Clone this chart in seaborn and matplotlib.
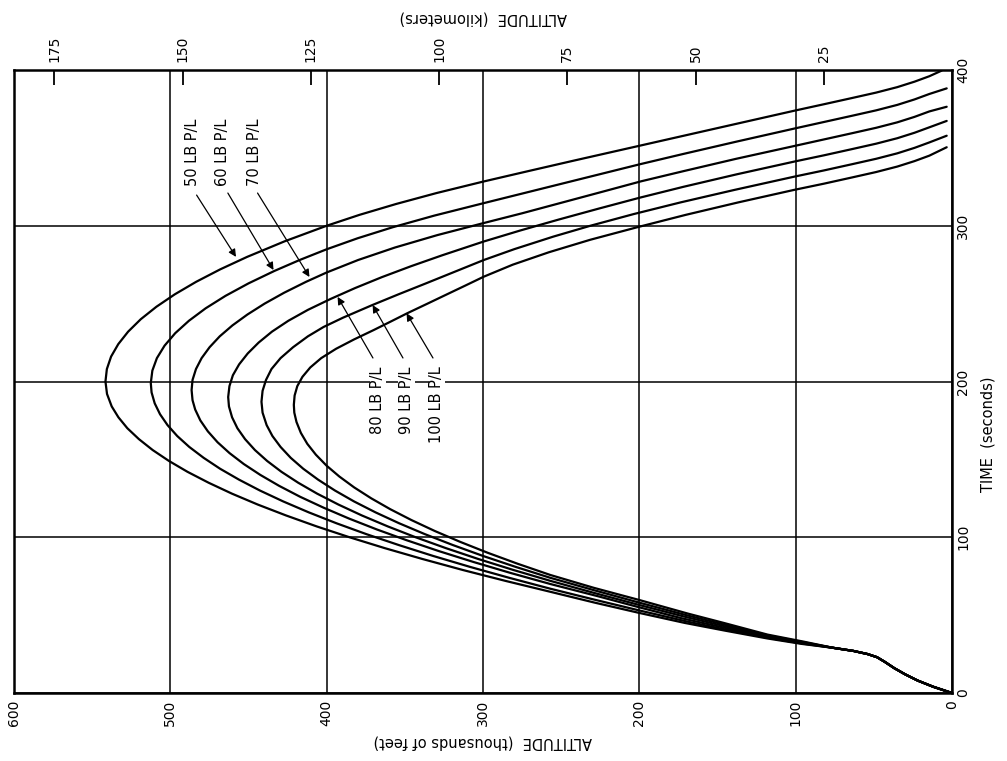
import numpy as np
import pandas as pd
import matplotlib
matplotlib.use("Agg")
import matplotlib.pyplot as plt
import seaborn as sns

sns.set_theme(style="white")
plt.rcParams["font.family"] = ["DejaVu Sans"]

# ---------------- data (time in s, altitude in thousands of feet) ----------------
payloads = ["50 LB P/L", "60 LB P/L", "70 LB P/L", "80 LB P/L", "90 LB P/L", "100 LB P/L"]

# common first part of the trajectory (all payloads overlap)
prefix_time = [0, 4, 8, 12, 16, 20, 23, 25, 27, 29]
prefix_alt = [0, 12, 22, 30, 37, 43, 48, 54, 63, 76]

time_50 = [31.5, 35, 40, 45, 51.4, 58, 65, 72, 79, 86, 93, 100, 107, 114, 121, 128, 135, 142, 149, 156,
           163, 170, 177, 184, 192, 200, 208, 216, 224, 232, 240, 248, 256, 264, 272, 280, 290, 300, 307,
           314, 321, 328.3, 335, 342, 351.2, 358, 365, 373.9, 378, 382, 385.5, 389, 392.5, 396, 399.6]
alt_50 = [96, 118, 145, 171, 200, 228.5, 257, 285.7, 313, 338.6, 362.8, 385.4, 406.5, 426, 444.1, 460.6,
          475.5, 489, 500.9, 511.3, 520.1, 527.5, 533.2, 537.5, 540.5, 541.5, 540.6, 537.9, 533.3, 527,
          518.9, 508.9, 497.1, 483.5, 468.1, 450.9, 426.9, 400, 379, 355.5, 329.7, 300.1, 271.4, 241.1,
          200.6, 170.7, 139.9, 100.7, 82, 64, 48.5, 35, 24, 14.5, 6.6]

time_60 = [31.8, 35.5, 41, 46, 53, 60, 67, 74, 81, 88, 95, 102, 109, 116, 123, 130, 137, 144, 151, 158,
           165, 172, 179, 186, 193, 199, 207, 215, 223, 231, 239, 247, 255, 263, 271, 278, 284.9, 292,
           299, 306.5, 314.4, 321, 330, 339.4, 346, 354, 362.6, 366.6, 370.6, 374.1, 377.6, 381.1, 384.6,
           388.2]
alt_60 = [96, 118, 146, 170, 200, 229, 257.1, 283.4, 308.4, 331.9, 353.9, 374.6, 393.8, 411.5, 427.8,
          442.7, 456.1, 468.2, 478.7, 487.9, 495.6, 501.8, 506.6, 510, 512, 512.5, 511.5, 508.6, 503.7,
          496.9, 488.1, 477.4, 464.7, 450, 433.4, 417.3, 400, 380.1, 357.9, 331.2, 300, 273.6, 237.6,
          200, 172.3, 137.9, 100, 82, 64, 48.5, 35, 24, 14.5, 3.4]

time_70 = [32, 36, 42, 48, 55, 62, 70, 77, 84, 91, 98, 105, 112, 119, 126, 133, 140, 147, 154, 161, 168,
           175, 182, 188, 194.5, 201, 208, 215, 222, 229, 236, 243, 250, 257, 264, 270, 278, 286, 294,
           301.6, 308, 315, 322, 328.5, 335, 343, 351.4, 355.4, 359.4, 362.9, 366.4, 369.9, 373.4, 376.4]
alt_70 = [95, 118, 146, 173, 200, 226, 257, 282.1, 305.7, 327.9, 348.6, 367.9, 385.7, 402, 417, 430.4,
          442.4, 453, 462.1, 469.8, 476, 480.8, 484.1, 485.8, 486.4, 485.8, 483.6, 480, 474.9, 468.4,
          460.3, 450.7, 439.7, 427.2, 413.2, 400, 379.9, 356.4, 329.2, 300.1, 275, 249, 223, 199, 172,
          138, 100, 82, 64, 48.5, 35, 24, 14.5, 3.4]

time_80 = [32.3, 36.5, 43, 49, 56.5, 64, 72, 79, 86, 93, 100, 107, 114, 121, 128, 135, 142, 149, 156,
           163, 170, 177, 184, 190, 197, 204, 211, 218, 225, 232, 239, 246, 253, 260, 267, 274, 281,
           289.8, 297, 304, 311, 318, 325, 333, 341.2, 345.2, 349.2, 352.7, 356.2, 359.7, 363.2, 367.3]
alt_80 = [95, 118, 146, 171, 200, 228, 256.9, 280.6, 302.9, 323.7, 343.1, 361, 377.5, 392.5, 406.1,
          418.2, 428.9, 438.1, 445.9, 452.2, 457.1, 460.5, 462.5, 463, 462.2, 460, 456, 450.5, 443.5,
          435, 424.5, 412, 397.5, 381.8, 364.7, 346.1, 326.2, 299.8, 276, 251.5, 226, 199.8, 171.8,
          137.8, 100.9, 82, 64, 48.5, 35, 24, 14.5, 3.4]

time_90 = [32.6, 37, 44, 50, 58, 66, 74, 81, 88, 95, 102, 109, 116, 123, 130, 137, 144, 151, 158, 165,
           172, 180, 187, 194, 201, 208, 215, 222, 229, 235, 241, 249, 256, 263, 270.5, 278, 285, 293,
           300, 307.5, 315, 323, 331.5, 335.5, 339.5, 343, 346.5, 350, 353.5, 357.8]
alt_90 = [95, 118, 146, 170, 200, 229, 257.1, 279.2, 300, 319.3, 337.2, 353.7, 368.8, 382.5, 394.7,
          405.5, 415, 423, 429.5, 434.7, 438.4, 441, 441.7, 441, 438.8, 435.3, 429.5, 421.5, 412, 402,
          389.5, 371, 354, 336.5, 318, 299.5, 279.9, 255.1, 231.3, 203.6, 173.6, 139.2, 101, 82, 64,
          48.5, 35, 24, 14.5, 3.4]

time_100 = [33, 37.5, 45, 51, 59.7, 67.5, 75.8, 83, 90, 97, 104, 111, 118, 125, 132, 139, 146, 153, 160,
            167, 174, 180, 185, 191, 197, 203, 209, 215, 221, 227, 233, 238.5, 243.8, 250, 256, 261.5,
            267.3, 275, 283, 291, 299, 307, 315, 323, 327, 331, 334.5, 338, 341.5, 345, 350.4]
alt_100 = [95, 118, 146, 169, 200, 229, 257, 277.9, 296.9, 314.5, 330.8, 345.7, 359.3, 371.5, 382.4,
           391.9, 400.1, 406.9, 412.4, 416.5, 419.3, 420.7, 421, 420.5, 418.8, 415.5, 410.5, 403.5, 394,
           382.5, 370, 359, 348.5, 335.5, 323, 311.5, 299.5, 281, 257.8, 231.4, 201.5, 170.3, 136.7,
           101.1, 82, 64, 48.5, 35, 24, 14.5, 3.4]

series_time = [time_50, time_60, time_70, time_80, time_90, time_100]
series_alt = [alt_50, alt_60, alt_70, alt_80, alt_90, alt_100]

alt_ticks_kft = [0, 100, 200, 300, 400, 500, 600]
alt_ticks_km = [25, 50, 75, 100, 125, 150, 175]
time_ticks = [0, 100, 200, 300, 400]

rows = []
for name, ts, als in zip(payloads, series_time, series_alt):
    tt = prefix_time + ts
    aa = prefix_alt + als
    for i, (t, a) in enumerate(zip(tt, aa)):
        rows.append({"payload": name, "order": i, "time": t, "altitude": a})
df = pd.DataFrame(rows)

# ---------------- figure ----------------
W, H = 1007, 761
fig = plt.figure(figsize=(W / 100, H / 100), dpi=100)
ax = fig.add_axes([14 / W, 68 / H, 938 / W, 623 / H])

sns.lineplot(data=df, x="altitude", y="time", units="payload", estimator=None, sort=False,
             color="black", lw=1.6, ax=ax, legend=False, solid_joinstyle="round")

ax.set_xlim(600, 0)
ax.set_ylim(0, 400)
ax.set_xticks(alt_ticks_kft)
ax.set_yticks(time_ticks)
ax.grid(True, color="black", lw=1.1)
ax.set_axisbelow(True)
for s in ax.spines.values():
    s.set_color("black")
    s.set_linewidth(1.8)
    s.set_visible(True)

# bottom axis (altitude kft)
ax.tick_params(axis="x", bottom=True, length=0, pad=5, labelsize=10, labelcolor="black")
for lab in ax.get_xticklabels():
    lab.set_rotation(90)
ax.set_xlabel("ALTITUDE  (thousands of feet)", rotation=180, fontsize=10.5, labelpad=6, color="black")

# right axis (time)
ax.yaxis.tick_right()
ax.yaxis.set_label_position("right")
ax.tick_params(axis="y", length=0, pad=3, labelsize=10, labelcolor="black")
for lab in ax.get_yticklabels():
    lab.set_rotation(90)
    lab.set_va("center")
ax.set_ylabel("TIME  (seconds)", rotation=90, fontsize=10.5, color="black")
ax.yaxis.set_label_coords(1.03, 0.416)

# top axis (altitude km)
sec = ax.secondary_xaxis("top", functions=(lambda x: x * 0.3048, lambda x: x / 0.3048))
sec.set_xticks(alt_ticks_km)
sec.tick_params(axis="x", direction="in", length=11, width=1.3, pad=6, labelsize=10,
                color="black", labelcolor="black")
for lab in sec.get_xticklabels():
    lab.set_rotation(90)
sec.set_xlabel("ALTITUDE  (kilometers)", rotation=180, fontsize=10.5, labelpad=9, color="black")
sec.spines["top"].set_visible(False)

# ---------------- payload labels with arrows (layout only) ----------------
label_layout = [
    # text centre (alt, time), arrow start (alt, time), arrow end (alt, time), white bg
    ((485.6, 347.0), (483.2, 319.7), (458.0, 280.0), False),
    ((466.4, 347.0), (463.2, 321.0), (434.0, 271.6), False),
    ((446.0, 347.0), (444.2, 321.0), (411.0, 267.1), False),
    ((367.2, 188.0), (370.4, 215.1), (393.0, 254.3), True),
    ((348.7, 188.0), (351.2, 215.1), (370.6, 249.1), True),
    ((329.5, 185.0), (332.0, 215.1), (348.9, 243.8), True),
]
for name, (txt, start, end, bg) in zip(payloads, label_layout):
    kw = {}
    if bg:
        kw["bbox"] = dict(facecolor="white", edgecolor="none", pad=0.6)
    ax.text(txt[0], txt[1], name, rotation=90, ha="center", va="center",
            fontsize=10.5, color="black", zorder=5, **kw)
    ax.annotate("", xy=end, xytext=start,
                arrowprops=dict(arrowstyle="-|>", color="black", lw=0.9, mutation_scale=11,
                                shrinkA=0, shrinkB=0), zorder=6)

fig.savefig("out.png", dpi=100, facecolor="white")
